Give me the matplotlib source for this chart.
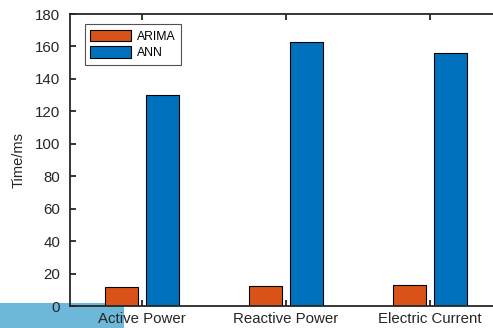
import numpy as np
import matplotlib.pyplot as plt
from matplotlib.patches import Rectangle

plt.rcParams['font.family'] = ['Liberation Sans', 'DejaVu Sans']

categories = ['Active Power', 'Reactive Power', 'Electric Current']
arima_ms = [12.0, 12.2, 12.7]
ann_ms = [130.3, 162.8, 155.8]
series_names = ['ARIMA', 'ANN']
y_ticks = [0, 20, 40, 60, 80, 100, 120, 140, 160, 180]

W, H = 493, 328
fig = plt.figure(figsize=(W / 100, H / 100), dpi=100)

# light blue strip in the lower-left corner, behind everything
fig.patches.append(Rectangle((0, 0), 124 / W, 25 / H, transform=fig.transFigure,
                             facecolor='#6db7d8', edgecolor='none', zorder=-10))

# axes run past the right edge of the canvas
left, right, top, bottom = 70, 502, 14, 306
ax = fig.add_axes([left / W, 1 - bottom / H, (right - left) / W, (bottom - top) / H])
ax.patch.set_alpha(0)

x = np.arange(1, len(categories) + 1)
w = 0.229
off = 0.143
ax.bar(x - off, arima_ms, w, color='#D95319', edgecolor='black', linewidth=0.8,
       label=series_names[0])
ax.bar(x + off, ann_ms, w, color='#0072BD', edgecolor='black', linewidth=0.8,
       label=series_names[1])

ax.set_xlim(0.5, 3.5)
ax.set_ylim(0, 180)
ax.set_xticks(x)
ax.set_xticklabels(categories)
ax.set_yticks(y_ticks)
ax.set_ylabel('Time/ms', fontsize=10.5, color='#262626', labelpad=7)

ax.spines['right'].set_visible(False)
for s in ax.spines.values():
    s.set_linewidth(1.3)
    s.set_color('#262626')
ax.tick_params(direction='in', length=4, width=1.3, color='#262626',
               labelcolor='#262626', labelsize=10.8, top=True)
ax.tick_params(axis='x', pad=4)
ax.tick_params(axis='y', pad=7)

leg = ax.legend(loc='upper left', bbox_to_anchor=(14.7 / 432, 1 - 10.3 / 292),
                fontsize=8.8, frameon=True, fancybox=False, edgecolor='#262626',
                handlelength=3.3, handleheight=1.05, borderpad=0.45,
                labelspacing=0.3, handletextpad=0.5, borderaxespad=0)
leg.get_frame().set_linewidth(0.8)

fig.savefig('out.png', dpi=100)
